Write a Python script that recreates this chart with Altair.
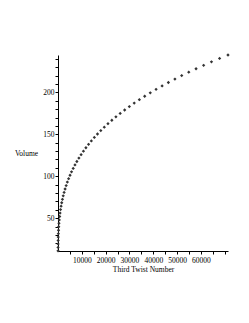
import altair as alt
import pandas as pd

twist = [6.5, 16.8, 34.5, 61.6, 100.2, 152.2, 219.7, 304.7, 409.1, 535.1,
         684.6, 859.7, 1062.2, 1294.4, 1558.1, 1855.4, 2188.4, 2558.9, 2969.1, 3420.9,
         3916.4, 4457.6, 5046.4, 5684.9, 6375.2, 7119.1, 7918.8, 8776.3, 9693.5, 10672.5,
         11715.3, 12823.9, 14000.3, 15246.6, 16564.7, 17956.6, 19424.4, 20970.6, 22596.3, 24303.5,
         26095.0, 27972.1, 29937.3, 31992.9, 34140.0, 36380.5, 38718.3, 41153.1, 43689.4, 46326.8,
         49068.3, 51915.8, 54871.5, 57937.2, 61115.0, 64406.0, 67814.1, 71340.4]
volume = [11.0, 15.1, 19.2, 23.3, 27.4, 31.5, 35.6, 39.7, 43.8, 47.9,
          52.0, 56.1, 60.2, 64.3, 68.4, 72.5, 76.6, 80.7, 84.8, 88.9,
          93.0, 97.1, 101.2, 105.3, 109.4, 113.5, 117.6, 121.7, 125.8, 129.9,
          134.0, 138.1, 142.2, 146.3, 150.4, 154.5, 158.6, 162.7, 166.8, 170.9,
          175.0, 179.1, 183.2, 187.3, 191.4, 195.5, 199.6, 203.7, 207.8, 211.9,
          216.0, 220.1, 224.2, 228.3, 232.4, 236.5, 240.6, 244.7]
x_ticks = [5000, 10000, 15000, 20000, 25000, 30000, 35000, 40000, 45000, 50000,
           55000, 60000, 65000, 70000]
y_ticks = [20, 30, 40, 50, 60, 70, 80, 90, 100, 110, 120, 130, 140, 150, 160, 170,
           180, 190, 200, 210, 220, 230, 240]

df = pd.DataFrame({"twist": twist, "volume": volume})
FONT = "Liberation Serif"

chart = alt.Chart(df).mark_point(
    shape="diamond", filled=True, size=11, color="#333333", opacity=1
).encode(
    x=alt.X("twist:Q",
            scale=alt.Scale(domain=[0, 71340], nice=False, zero=False),
            axis=alt.Axis(values=x_ticks, title="Third Twist Number",
                          labelExpr="(datum.value % 10000 == 0 && datum.value <= 60000) ? datum.label : ''",
                          format="d", titlePadding=2, labelPadding=2)),
    y=alt.Y("volume:Q",
            scale=alt.Scale(domain=[10.8, 244.7], nice=False, zero=False),
            axis=alt.Axis(values=y_ticks, title="Volume",
                          labelExpr="datum.value % 50 == 0 ? datum.label : ''",
                          titleAngle=0, titleX=-32, titleY=98,
                          titleAlign="center", titleBaseline="middle")),
).properties(
    width=170, height=196,
    autosize=alt.AutoSizeParams(type="none"),
    padding={"left": 50, "top": 47, "right": 13, "bottom": 50},
).configure_view(stroke=None).configure_axis(
    grid=False, domainColor="#000000", tickColor="#000000", labelColor="#000000",
    titleColor="#000000", labelFont=FONT, titleFont=FONT, labelFontSize=7.5,
    titleFontSize=7.5, titleFontWeight="normal", tickSize=3, labelPadding=1,
    domainWidth=1, tickWidth=1, labelFlush=False
)

chart.save("out.html", embed_options={"renderer": "svg", "actions": False})
